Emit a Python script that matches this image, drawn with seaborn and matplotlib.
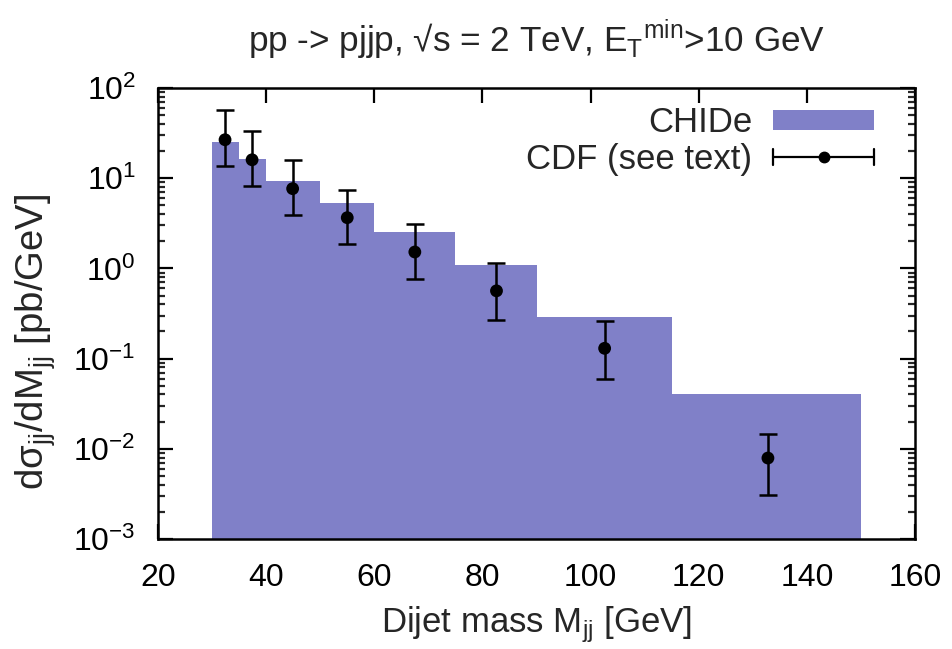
import numpy as np
import matplotlib
matplotlib.use("Agg")
import matplotlib.pyplot as plt
import seaborn as sns
from matplotlib.patches import Patch
from matplotlib.lines import Line2D
from matplotlib.legend_handler import HandlerBase
from matplotlib.ticker import LogLocator, FixedLocator

# ---- data ----
bin_edges = [30, 35, 40, 50, 60, 75, 90, 115, 150]
chide_vals = [25.0, 16.4, 9.3, 5.3, 2.53, 1.09, 0.288, 0.041]
cdf_x = [32.4, 37.4, 44.9, 55.0, 67.5, 82.6, 102.6, 132.8]
cdf_y = [26.7, 16.0, 7.66, 3.65, 1.52, 0.564, 0.130, 0.0079]
cdf_hi = [57.4, 33.3, 16.0, 7.46, 3.1, 1.15, 0.262, 0.0147]
cdf_lo = [13.7, 8.2, 3.91, 1.86, 0.755, 0.271, 0.060, 0.0031]
xticks = [20, 40, 60, 80, 100, 120, 140, 160]

sns.set_theme(style="ticks")
plt.rcParams['font.family'] = ['Liberation Sans', 'DejaVu Sans']
plt.rcParams['mathtext.fontset'] = 'custom'
plt.rcParams['mathtext.rm'] = 'Liberation Sans'
plt.rcParams['mathtext.it'] = 'Liberation Sans'
plt.rcParams['mathtext.sf'] = 'Liberation Sans'
plt.rcParams['mathtext.default'] = 'regular'

fig = plt.figure(figsize=(9.53, 6.49), dpi=100)
ax = fig.add_axes([158/953, 1-539/649, (915-158)/953, (539-88)/649])

purple = '#8080c8'
centers = [(a + b) / 2 for a, b in zip(bin_edges[:-1], bin_edges[1:])]
sns.histplot(x=centers, weights=chide_vals, bins=bin_edges, ax=ax,
             color=purple, alpha=1, linewidth=0, edgecolor='none', stat='count')

y = np.array(cdf_y)
yerr = np.vstack([y - np.array(cdf_lo), np.array(cdf_hi) - y])
ax.errorbar(cdf_x, cdf_y, yerr=yerr, fmt='none', ecolor='black',
            elinewidth=1.8, capsize=6.5, capthick=1.8, zorder=5)
sns.scatterplot(x=cdf_x, y=cdf_y, ax=ax, color='black', s=85, edgecolor='none', zorder=6)

ax.set_yscale('log')
ax.set_xlim(20, 160)
ax.set_ylim(1e-3, 1e2)
ax.xaxis.set_major_locator(FixedLocator(xticks))
ax.yaxis.set_major_locator(LogLocator(base=10, numticks=10))
ax.yaxis.set_minor_locator(LogLocator(base=10, subs=np.arange(2, 10), numticks=20))

for side in ['left', 'right', 'top', 'bottom']:
    ax.spines[side].set_visible(True)
    ax.spines[side].set_linewidth(1.8)
    ax.spines[side].set_color('black')
ax.tick_params(which='major', direction='in', length=10.5, width=1.6,
               top=True, right=True, labelsize=23, colors='black')
ax.tick_params(axis='x', which='major', pad=17)
ax.tick_params(axis='y', which='major', pad=16)
ax.tick_params(which='minor', direction='in', length=5, width=1.6,
               top=False, right=True, left=True)
ax.tick_params(axis='x', which='minor', bottom=False, top=False)
ax.set_ylabel(r'd$\sigma_{jj}$/dM$_{jj}$ [pb/GeV]', fontsize=27.5)
ax.yaxis.set_label_coords(-0.132, 0.438)
ax.set_xlabel(r'Dijet mass M$_{jj}$ [GeV]', fontsize=25, labelpad=8)
ax.set_title('pp -> pjjp, \u221as = 2 TeV, E$_{T}$$^{min}$>10 GeV', fontsize=25.3, pad=26)


class HErrHandler(HandlerBase):
    def create_artists(self, legend, orig_handle, xdescent, ydescent,
                       width, height, fontsize, trans):
        x0 = -xdescent
        yc = -ydescent + height / 2
        cap = 6
        arts = [
            Line2D([x0, x0 + width], [yc, yc], color='black', lw=1.6),
            Line2D([x0, x0], [yc - cap, yc + cap], color='black', lw=1.6),
            Line2D([x0 + width, x0 + width], [yc - cap, yc + cap], color='black', lw=1.6),
            Line2D([x0 + width / 2], [yc], marker='o', color='black', ms=7.5, lw=0),
        ]
        for a in arts:
            a.set_transform(trans)
        return arts


class ErrKey:
    pass


handles = [Patch(facecolor=purple, edgecolor='none'), ErrKey()]
labels = ['CHIDe', 'CDF (see text)']
leg = ax.legend(handles, labels, loc='upper right', bbox_to_anchor=(874/953, 1-106/649),
                bbox_transform=fig.transFigure, frameon=False, markerfirst=False,
                fontsize=25, handlelength=2.9, handleheight=0.5, handletextpad=0.6,
                labelspacing=0.12, borderpad=0, borderaxespad=0,
                handler_map={ErrKey: HErrHandler()})

fig.savefig('out.png', dpi=100)
